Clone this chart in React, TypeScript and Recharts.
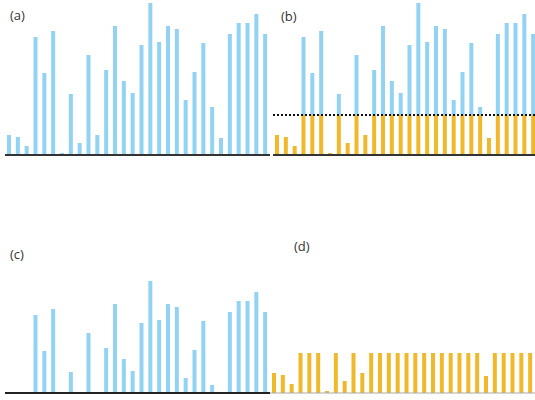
import React from 'react';
import { BarChart, Bar, XAxis, YAxis, ReferenceLine } from 'recharts';

// heights of the 30 bars
const values = [20, 18, 9, 118, 82, 124, 2, 61, 12, 100, 20, 85, 129, 74, 62, 110, 152, 113, 129, 126, 55, 83, 112, 48, 17, 121, 132, 132, 141, 121];
// part of each bar under the dotted cap (gold in b and d)
const belowCap = [20, 18, 9, 40, 40, 40, 2, 40, 12, 40, 20, 40, 40, 40, 40, 40, 40, 40, 40, 40, 40, 40, 40, 40, 17, 40, 40, 40, 40, 40];
// part above the cap (blue in b and c)
const aboveCap = [0, 0, 0, 78, 42, 84, 0, 21, 0, 60, 0, 45, 89, 34, 22, 70, 112, 73, 89, 86, 15, 43, 72, 8, 0, 81, 92, 92, 101, 81];
const cap = 40;

const BLUE = '#92d2f2';
const GOLD = '#efb92b';

const rows = values.map((v, i) => ({ i, v, below: belowCap[i], above: aboveCap[i] }));

const W = 270;
const H = 160;
const margin = { top: 2, right: 0, bottom: 5, left: 5 };

const labelStyle: React.CSSProperties = {
  position: 'absolute',
  fontFamily: '"Open Sans", sans-serif',
  fontSize: 13,
  lineHeight: '13px',
  color: '#333',
};

const Panel: React.FC<{ left: number; top: number; children: React.ReactNode }> = ({ left, top, children }) => (
  <div style={{ position: 'absolute', left, top }}>{children}</div>
);

const App: React.FC = () => {
  return (
    <div style={{ position: 'absolute', left: 0, top: 0, width: 535, height: 400, background: '#fff', overflow: 'hidden' }}>
      {/* (a) raw values */}
      <Panel left={0} top={0}>
        <BarChart width={W} height={H} data={rows} margin={margin}>
          <XAxis dataKey="i" hide />
          <YAxis hide domain={[0, 153]} />
          <Bar dataKey="v" fill={BLUE} barSize={4} isAnimationActive={false} />
          <ReferenceLine y={0} stroke="#333" strokeWidth={2} />
        </BarChart>
      </Panel>

      {/* (b) split at the cap */}
      <Panel left={268} top={0}>
        <BarChart width={W} height={H} data={rows} margin={margin}>
          <XAxis dataKey="i" hide />
          <YAxis hide domain={[0, 153]} />
          <Bar dataKey="below" stackId="s" fill={GOLD} barSize={4} isAnimationActive={false} />
          <Bar dataKey="above" stackId="s" fill={BLUE} barSize={4} isAnimationActive={false} />
          <ReferenceLine y={cap} stroke="#111" strokeWidth={2} strokeDasharray="2 2" />
          <ReferenceLine y={0} stroke="#333" strokeWidth={2} />
        </BarChart>
      </Panel>

      {/* (c) excess only */}
      <Panel left={0} top={238}>
        <BarChart width={W} height={H} data={rows} margin={margin}>
          <XAxis dataKey="i" hide />
          <YAxis hide domain={[0, 153]} />
          <Bar dataKey="above" fill={BLUE} barSize={4} isAnimationActive={false} />
          <ReferenceLine y={0} stroke="#222" strokeWidth={2} />
        </BarChart>
      </Panel>

      {/* (d) capped values */}
      <Panel left={265} top={238}>
        <BarChart width={W} height={H} data={rows} margin={margin}>
          <XAxis dataKey="i" hide />
          <YAxis hide domain={[0, 153]} />
          <Bar dataKey="below" fill={GOLD} barSize={4} isAnimationActive={false} />
          <ReferenceLine y={0} stroke="#aaa" strokeWidth={1} />
        </BarChart>
      </Panel>

      <div style={{ ...labelStyle, left: 10, top: 9 }}>(a)</div>
      <div style={{ ...labelStyle, left: 281, top: 10 }}>(b)</div>
      <div style={{ ...labelStyle, left: 10, top: 248 }}>(c)</div>
      <div style={{ ...labelStyle, left: 294, top: 240 }}>(d)</div>
    </div>
  );
};

export default App;
